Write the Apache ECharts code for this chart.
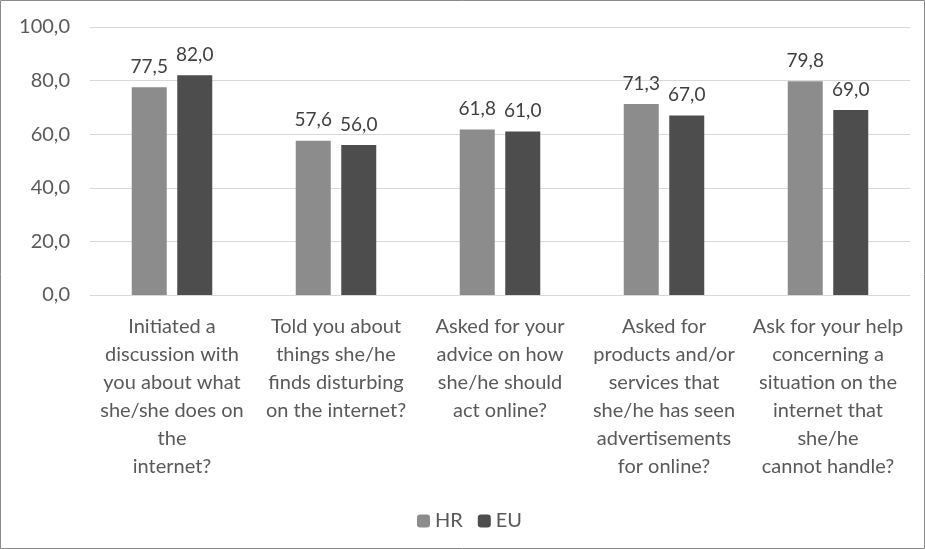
<!DOCTYPE html>
<html><head><meta charset="utf-8">
<script src="https://cdn.jsdelivr.net/npm/echarts@6/dist/echarts.min.js"></script>
<style>html,body{margin:0;padding:0;background:#fff}#c{width:925px;height:549px}</style>
</head><body><div id="c"></div>
<script>
const categories = [
  "Initiated a\ndiscussion with\nyou about what\nshe/she does on\nthe\ninternet?",
  "Told you about\nthings she/he\nfinds disturbing\non the internet?",
  "Asked for your\nadvice on how\nshe/he should\nact online?",
  "Asked for\nproducts and/or\nservices that\nshe/he has seen\nadvertisements\nfor online?",
  "Ask for your help\nconcerning a\nsituation on the\ninternet that\nshe/he\ncannot handle?"
];
const hrValues = [77.5, 57.6, 61.8, 71.3, 79.8];
const euValues = [82.0, 56.0, 61.0, 67.0, 69.0];
const fmt = v => v.toFixed(1).replace('.', ',');
const font = 'Lato';
const chart = echarts.init(document.getElementById('c'));
chart.setOption({
  animation: false,
  textStyle: { fontFamily: font },
  graphic: [{ type: 'rect', shape: { x: 0.5, y: 0.5, width: 924, height: 548 }, style: { fill: 'none', stroke: '#8a8a8a', lineWidth: 1 } }],
  grid: { left: 90, right: 15, top: 27, bottom: 254 },
  legend: {
    bottom: 13, left: 412, itemWidth: 13, itemHeight: 13, itemGap: 15,
    textStyle: { fontFamily: font, fontSize: 20, color: '#595959' },
    data: ['HR', 'EU']
  },
  xAxis: {
    type: 'category', data: categories,
    axisLine: { show: false }, axisTick: { show: false },
    axisLabel: { interval: 0, margin: 18, fontFamily: font, fontSize: 20, lineHeight: 28, color: '#595959' }
  },
  yAxis: {
    type: 'value', min: 0, max: 100, interval: 20,
    axisLabel: { formatter: v => fmt(v), fontFamily: font, fontSize: 20, color: '#595959', margin: 20 },
    splitLine: { lineStyle: { color: '#d9d9d9' } },
    axisLine: { show: false }, axisTick: { show: false }
  },
  series: [
    { name: 'HR', type: 'bar', data: hrValues, barWidth: 35, barGap: '30%', itemStyle: { color: '#8c8c8c' },
      label: { show: true, position: 'top', distance: 11, formatter: p => fmt(p.value), fontFamily: font, fontSize: 19, color: '#404040' } },
    { name: 'EU', type: 'bar', data: euValues, barWidth: 35, itemStyle: { color: '#4d4d4d' },
      label: { show: true, position: 'top', distance: 11, formatter: p => fmt(p.value), fontFamily: font, fontSize: 19, color: '#404040' } }
  ]
});
</script></body></html>
